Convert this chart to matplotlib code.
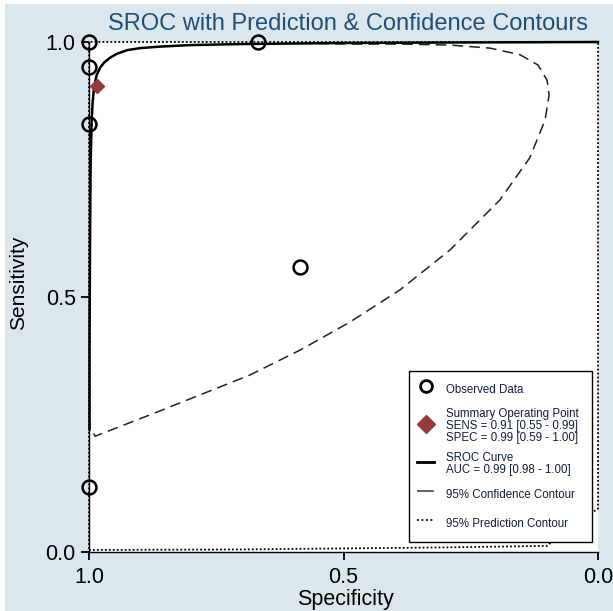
import matplotlib.pyplot as plt
from matplotlib.lines import Line2D
from matplotlib.patches import Rectangle

# observed studies (specificity, sensitivity)
obs_spec = [1.0, 1.0, 1.0, 1.0, 0.668, 0.585]
obs_sens = [1.0, 0.951, 0.84, 0.127, 1.0, 0.559]

# summary operating point
sum_spec = 0.984
sum_sens = 0.914

# SROC curve
sroc_spec = [0.0, 0.3, 0.5, 0.7, 0.8, 0.86, 0.9, 0.925, 0.945, 0.959, 0.97,
             0.978, 0.985, 0.99, 0.993, 0.995, 0.997, 0.998, 0.999, 0.999]
sroc_sens = [1.0, 0.999, 0.998, 0.996, 0.994, 0.991, 0.988, 0.984, 0.977, 0.969, 0.96,
             0.95, 0.935, 0.912, 0.88, 0.84, 0.75, 0.6, 0.4, 0.24]

# 95% confidence contour
conf_spec = [0.55, 0.49, 0.389, 0.291, 0.212, 0.153, 0.118, 0.100, 0.096, 0.104,
             0.134, 0.193, 0.291, 0.389, 0.487, 0.585, 0.684, 0.782, 0.880, 0.988,
             0.999, 0.999, 0.998, 0.997, 0.995]
conf_sens = [0.997, 0.996, 0.996, 0.994, 0.988, 0.975, 0.955, 0.925, 0.896, 0.847,
             0.773, 0.690, 0.592, 0.514, 0.451, 0.396, 0.347, 0.308, 0.269, 0.227,
             0.245, 0.4, 0.6, 0.75, 0.84]

# 95% prediction contour
pred_spec = [1.0, 0.7, 0.5, 0.3, 0.1, 0.085, 0.05, 0.02, 0.0, 0.0, 0.5, 1.0, 1.0]
pred_sens = [0.004, 0.005, 0.007, 0.009, 0.012, 0.025, 0.05, 0.072, 0.085, 1.0, 1.0, 1.0, 0.004]

legend_labels = ["Observed Data",
                 "Summary Operating Point\nSENS = 0.91 [0.55 - 0.99]\nSPEC = 0.99 [0.59 - 1.00]",
                 "SROC Curve\nAUC = 0.99 [0.98 - 1.00]",
                 "95% Confidence Contour",
                 "95% Prediction Contour"]

bg = '#dbe7ec'
red = '#953a3d'
plt.rcParams['font.family'] = ['Liberation Sans', 'DejaVu Sans']

fig = plt.figure(figsize=(6.13, 6.11), dpi=100, facecolor='white')
fig.patches.append(Rectangle((5 / 613, 0), 1, 1 - 4 / 611, transform=fig.transFigure,
                             facecolor=bg, edgecolor='none', zorder=-10))
ax = fig.add_axes([89 / 613, 59 / 611, 509 / 613, 510 / 611])
ax.set_facecolor('white')

ax.plot(pred_spec, pred_sens, color='black', lw=1.3, ls=(0, (1, 1.2)), clip_on=False, zorder=2)
ax.plot(conf_spec, conf_sens, color='#222222', lw=1.1, ls=(0, (7, 4)), zorder=3)
ax.plot(sroc_spec, sroc_sens, color='black', lw=1.8, clip_on=False, zorder=4)
ax.plot(obs_spec, obs_sens, 'o', mfc='none', mec='black', ms=10, mew=1.8, clip_on=False, zorder=5)
ax.plot([sum_spec], [sum_sens], 'D', color=red, ms=7.5, zorder=6)

ax.set_xlim(1, 0)
ax.set_ylim(0, 1)
ax.set_xticks([1.0, 0.5, 0.0])
ax.set_xticklabels(['1.0', '0.5', '0.0'])
ax.set_yticks([0.0, 0.5, 1.0])
ax.set_yticklabels(['0.0', '0.5', '1.0'])
ax.tick_params(direction='out', length=6, width=1.3, labelsize=15.5)
ax.tick_params(axis='x', pad=5)
ax.tick_params(axis='y', pad=3.5)
for s in ['top', 'right']:
    ax.spines[s].set_visible(False)
for s in ['left', 'bottom']:
    ax.spines[s].set_linewidth(1.0)

ax.set_xlabel('Specificity', fontsize=15.5, va='top')
ax.set_ylabel('Sensitivity', fontsize=15)
ax.xaxis.set_label_coords(0.503, -0.072)
ax.yaxis.set_label_coords(-0.12, 0.528)

fig.text(348 / 613, 1 - 30 / 611, 'SROC with Prediction & Confidence Contours',
         ha='center', va='baseline', fontsize=17, color='#1f4e79')

handles = [Line2D([], [], marker='o', ls='none', mfc='none', mec='black', ms=8.5, mew=2),
           Line2D([], [], marker='D', ls='none', color=red, ms=9.5),
           Line2D([], [], color='black', lw=2),
           Line2D([], [], color='#333333', lw=1.1, ls=(0, (11, 3))),
           Line2D([], [], color='black', lw=1.3, ls=(0, (1, 1.5)))]
leg = ax.legend(handles, legend_labels, loc='lower left',
                bbox_to_anchor=(0.6287, 0.0196, 0.3595, 0.34), mode='expand',
                borderaxespad=0, fontsize=8.3, frameon=True, fancybox=False,
                edgecolor='black', framealpha=1, handlelength=1.5, handletextpad=1.0,
                handleheight=2.4, labelspacing=0.7, borderpad=0.7)
leg.get_frame().set_linewidth(1.0)
for t in leg.get_texts():
    t.set_color('#10203a')
    t.set_linespacing(1.0)

fig.savefig('out.png', dpi=100, facecolor=fig.get_facecolor())
